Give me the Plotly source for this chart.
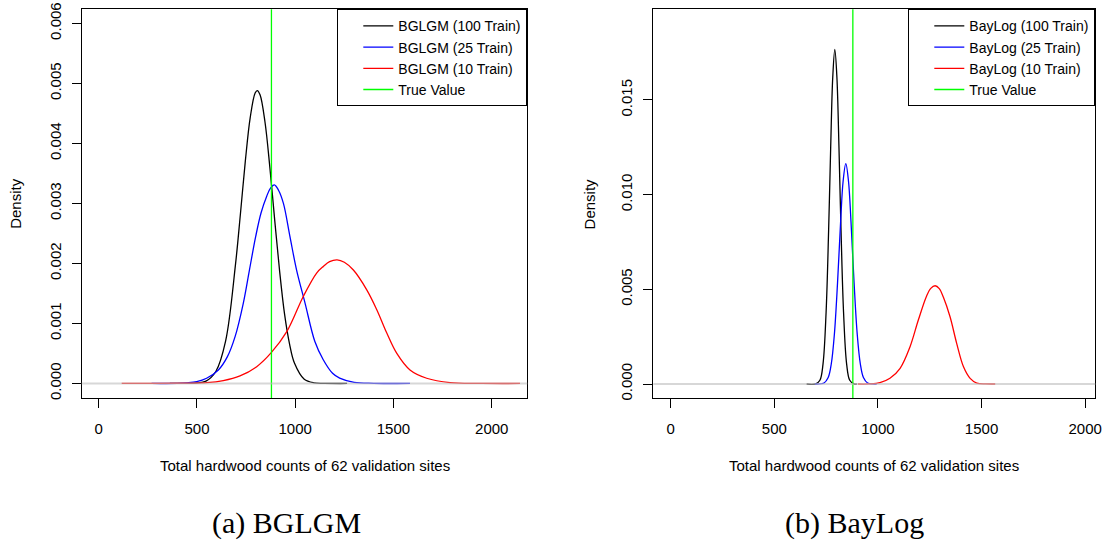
import plotly.graph_objects as go

# ---------------- data ----------------
true_value = 879

bglgm_100_x = [362, 446, 496, 546, 596, 646, 696, 721, 746, 771, 796, 807, 821, 846, 871, 896, 921, 946, 971, 996, 1046, 1096, 1146, 1264]
bglgm_100_y = [0, 0.000002, 0.000008, 0.00004, 0.0002, 0.00071, 0.00198, 0.00282, 0.0037, 0.00443, 0.00484, 0.00488, 0.00481, 0.00436, 0.0036, 0.00271, 0.00186, 0.00115, 0.00066, 0.00034, 0.00007, 0.00001, 0.000002, 0]

bglgm_25_x = [269, 400, 450, 499, 549, 609, 655, 694, 736, 767, 799, 826, 855, 875, 894, 915, 940, 973, 1007, 1050, 1100, 1142, 1190, 1226, 1300, 1400, 1584]
bglgm_25_y = [0, 0.000002, 0.00001, 0.00003, 0.000087, 0.000225, 0.000447, 0.00078, 0.00134, 0.00189, 0.00245, 0.00284, 0.00312, 0.00326, 0.00331, 0.00322, 0.003, 0.00245, 0.00189, 0.00134, 0.0007, 0.0004, 0.00017, 0.00009, 0.00002, 0.000003, 0]

bglgm_10_x = [117, 300, 450, 550, 634, 719, 804, 878, 957, 1041, 1109, 1143, 1175, 1213, 1250, 1296, 1364, 1415, 1466, 1517, 1584, 1669, 1788, 1950, 2144]
bglgm_10_y = [0, 0.000001, 0.000005, 0.000013, 0.000047, 0.000125, 0.00028, 0.000513, 0.000863, 0.00145, 0.00184, 0.00195, 0.00203, 0.00206, 0.00202, 0.00189, 0.00156, 0.00123, 0.00084, 0.0005, 0.000225, 0.000087, 0.000013, 0.000001, 0]

baylog_100_x = [656, 700, 720, 735, 750, 762, 772, 782, 792, 802, 812, 822, 834, 849, 864, 884, 898]
baylog_100_y = [0, 0.0000115, 0.000196, 0.00105, 0.00382, 0.00809, 0.01249, 0.0162, 0.01767, 0.0162, 0.01249, 0.00809, 0.00382, 0.00105, 0.000196, 0.0000115, 0]

baylog_25_x = [696, 740, 760, 775, 790, 805, 820, 832, 845, 858, 870, 885, 900, 915, 930, 950, 994]
baylog_25_y = [0, 0.000054, 0.00034, 0.00107, 0.00265, 0.00533, 0.00858, 0.01071, 0.01164, 0.01071, 0.00858, 0.00533, 0.00265, 0.00107, 0.00034, 0.000054, 0]

baylog_10_x = [904, 960, 1010, 1058, 1107, 1155, 1195, 1235, 1255, 1276, 1296, 1316, 1348, 1380, 1413, 1445, 1477, 1520, 1566]
baylog_10_y = [0, 0.000005, 0.00007, 0.0003, 0.00083, 0.00197, 0.00338, 0.00465, 0.00505, 0.00519, 0.00504, 0.00458, 0.00355, 0.00215, 0.00091, 0.0003, 0.00005, 0.000005, 0]

bglgm_names = ["BGLGM (100 Train)", "BGLGM (25 Train)", "BGLGM (10 Train)"]
baylog_names = ["BayLog (100 Train)", "BayLog (25 Train)", "BayLog (10 Train)"]
true_name = "True Value"

x_ticks = [0, 500, 1000, 1500, 2000]
left_y_ticks = [0, 0.001, 0.002, 0.003, 0.004, 0.005, 0.006]
right_y_ticks = [0, 0.005, 0.010, 0.015]

x_title = "Total hardwood counts of 62 validation sites"
y_title = "Density"
captions = ["(a) BGLGM", "(b) BayLog"]

# ---------------- layout geometry (page pixels) ----------------
W, H = 1106, 543
FONT = "Liberation Sans, Arial, Helvetica, sans-serif"
SERIF = "Liberation Serif, Times New Roman, serif"
box_top, box_bot = 9.3, 398.3
left_box = (81.7, 527.3)
right_box = (653.3, 1095.3)

def fx(p):
    return p / W

def fy(p):
    return 1 - p / H

colors = ["#000000", "#0000ff", "#ff0000"]
green = "#00ff00"
LW = 1.3

fig = go.Figure()

panels = [
    ("x", "y", "legend", bglgm_names, [(bglgm_100_x, bglgm_100_y), (bglgm_25_x, bglgm_25_y), (bglgm_10_x, bglgm_10_y)]),
    ("x2", "y2", "legend2", baylog_names, [(baylog_100_x, baylog_100_y), (baylog_25_x, baylog_25_y), (baylog_10_x, baylog_10_y)]),
]

for xa, ya, lg, names, series in panels:
    for name, (xs, ys), c in zip(names, series, colors):
        fig.add_trace(go.Scatter(
            x=xs, y=ys, mode="lines", name=name,
            line=dict(color=c, width=LW, shape="spline", smoothing=1.0),
            xaxis=xa, yaxis=ya, legend=lg, hoverinfo="skip",
        ))
    fig.add_trace(go.Scatter(
        x=[true_value, true_value], y=[-1, 1], mode="lines", name=true_name,
        line=dict(color=green, width=LW),
        xaxis=xa, yaxis=ya, legend=lg, hoverinfo="skip",
    ))

common_axis = dict(
    showline=True, mirror=True, linecolor="black", linewidth=1,
    ticks="outside", ticklen=9, tickwidth=1, tickcolor="black",
    showgrid=False, zeroline=False, automargin=False,
    ticklabeloverflow="allow",
    tickfont=dict(family=FONT, size=15, color="black"),
)

legend_common = dict(
    xanchor="right", yanchor="top",
    bordercolor="black", borderwidth=1, bgcolor="white",
    font=dict(family=FONT, size=14, color="black"), indentation=20,
    tracegroupgap=0,
)

fig.update_layout(
    width=W, height=H, autosize=False,
    margin=dict(l=0, r=0, t=0, b=0, autoexpand=False),
    paper_bgcolor="white", plot_bgcolor="white",
    font=dict(family=FONT, size=15, color="black"),
    xaxis=dict(domain=[fx(left_box[0]), fx(left_box[1])], range=[-86.5, 2181], anchor="y",
               tickvals=x_ticks, ticklabelstandoff=8, **common_axis),
    yaxis=dict(domain=[fy(box_bot), fy(box_top)], range=[-0.000247, 0.006234], anchor="x",
               tickvals=left_y_ticks, tickformat=".3f", tickangle=-90, ticklabelstandoff=5, **common_axis),
    xaxis2=dict(domain=[fx(right_box[0]), fx(right_box[1])], range=[-84, 2049], anchor="y2",
                tickvals=x_ticks, ticklabelstandoff=8, **common_axis),
    yaxis2=dict(domain=[fy(box_bot), fy(box_top)], range=[-0.000755, 0.01979], anchor="x2",
                tickvals=right_y_ticks, tickformat=".3f", tickangle=-90, ticklabelstandoff=5, **common_axis),
    legend=dict(x=fx(left_box[1]), y=fy(box_top), **legend_common),
    legend2=dict(x=fx(right_box[1]), y=fy(box_top), **legend_common),
    showlegend=True,
)

shapes = []
for xa, ya in [("x", "y"), ("x2", "y2")]:
    shapes.append(dict(type="line", xref=f"{xa} domain", x0=0, x1=1, yref=ya, y0=0, y1=0,
                       line=dict(color="#bebebe", width=2), opacity=0.6, layer="above"))
fig.update_layout(shapes=shapes)

annotations = []
for (bx0, bx1) in [left_box, right_box]:
    cx = (bx0 + bx1) / 2
    annotations.append(dict(text=x_title, x=fx(cx), y=fy(465.7), xref="paper", yref="paper",
                            xanchor="center", yanchor="middle", showarrow=False,
                            font=dict(family=FONT, size=15, color="black")))
for px_ in [16, 589.6]:
    annotations.append(dict(text=y_title, x=fx(px_), y=fy((box_top + box_bot) / 2), xref="paper", yref="paper",
                            xanchor="center", yanchor="middle", showarrow=False, textangle=-90,
                            font=dict(family=FONT, size=15, color="black")))
for cap, cap_x in zip(captions, [286.3, 854.8]):
    annotations.append(dict(text=cap, x=fx(cap_x), y=fy(523), xref="paper", yref="paper",
                            xanchor="center", yanchor="middle", showarrow=False,
                            font=dict(family=SERIF, size=30, color="black")))
fig.update_layout(annotations=annotations)

fig.write_html(
    "out.html",
    config={"displayModeBar": False, "staticPlot": True},
    post_script="document.body.style.margin='0';document.body.style.overflow='hidden';",
)
